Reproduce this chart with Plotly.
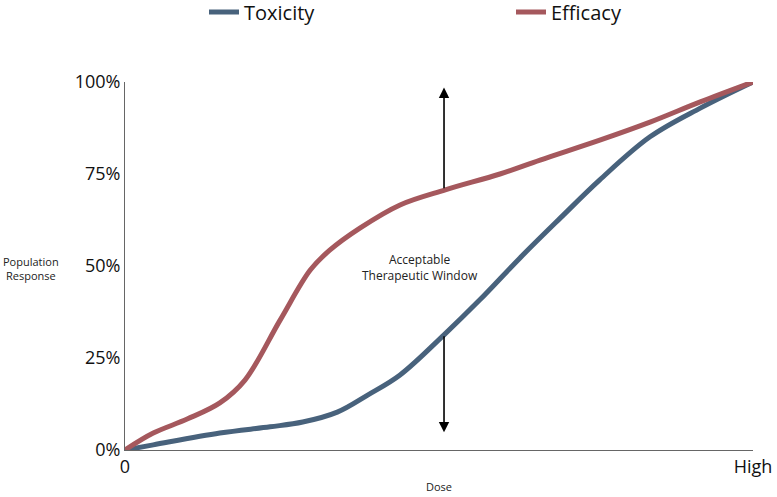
import plotly.graph_objects as go

# Dose on 0..100 scale (0 = "0", 100 = "High"); response in percent
tox_dose = [0, 4.5, 15.1, 23.1, 28.3, 33.8, 38.7, 43.8, 50.8, 56.5, 62.9, 69.3, 75.6, 83.6, 91.6, 100]
tox_resp = [0, 1.4, 4.6, 6.3, 7.6, 10.3, 15.0, 20.4, 31.3, 40.8, 52.2, 63.0, 73.4, 85.1, 92.9, 100]

eff_dose = [0, 4.5, 9.9, 15.1, 19.1, 24.7, 29.5, 32.6, 37.4, 43.8, 51.0, 59.7, 66.1, 75.6, 83.6, 91.6, 100]
eff_resp = [0, 4.6, 8.4, 12.8, 19.0, 35.3, 48.9, 54.3, 60.3, 66.6, 70.7, 75.0, 78.8, 84.2, 89.1, 94.6, 100]

y_ticks = [0, 25, 50, 75, 100]
y_tick_labels = ["0%", "25%", "50%", "75%", "100%"]
x_ticks = [0, 100]
x_tick_labels = ["0", "High"]

arrow_x = 50.8
arrow_up = [70.7, 98.5]     # from efficacy curve up
arrow_down = [31.3, 4.8]    # from toxicity curve down
window_label = (47, 49.5)

TOX = "#48627c"
EFF = "#a5585d"
FONT = "Open Sans"

fig = go.Figure()
fig.add_trace(go.Scatter(x=tox_dose, y=tox_resp, mode="lines", name="Toxicity",
                         line=dict(color=TOX, width=5, shape="spline", smoothing=1.0)))
fig.add_trace(go.Scatter(x=eff_dose, y=eff_resp, mode="lines", name="Efficacy",
                         line=dict(color=EFF, width=5, shape="spline", smoothing=1.0)))

for y0, y1 in (arrow_up, arrow_down):
    fig.add_annotation(x=arrow_x, y=y1, ax=arrow_x, ay=y0, xref="x", yref="y",
                       axref="x", ayref="y", showarrow=True, arrowhead=2,
                       arrowsize=1.3, arrowwidth=1.6, arrowcolor="black", text="")

fig.add_annotation(x=window_label[0], y=window_label[1], xref="x", yref="y",
                   text="Acceptable<br>Therapeutic Window", showarrow=False,
                   font=dict(family=FONT, size=12, color="#222"), align="center")
fig.add_annotation(x=(31 - 125) / 628, y=(450 - 268) / 368, xref="paper", yref="paper",
                   xanchor="center", yanchor="middle",
                   text="Population<br>Response", showarrow=False,
                   font=dict(family=FONT, size=11, color="#222"), align="center")

fig.update_layout(
    width=777, height=497,
    margin=dict(l=125, r=24, t=82, b=47, autoexpand=False),
    paper_bgcolor="white", plot_bgcolor="white",
    font=dict(family=FONT, color="#111"),
    showlegend=True,
    legend=dict(orientation="h", x=204 / 777, xref="container", xanchor="left",
                y=1 - 12 / 497, yref="container", yanchor="middle",
                entrywidth=262, entrywidthmode="pixels",
                font=dict(family=FONT, size=20, color="#111"),
                bgcolor="rgba(0,0,0,0)"),
    xaxis=dict(range=[0, 100], tickvals=x_ticks, ticktext=x_tick_labels, automargin=False,
               showgrid=False, zeroline=False, showline=True, linecolor="#666",
               linewidth=1, ticks="", tickfont=dict(family=FONT, size=18, color="#111"),
               title=dict(text="Dose", font=dict(family=FONT, size=11, color="#222"), standoff=6)),
    yaxis=dict(range=[0, 100], tickvals=y_ticks, ticktext=y_tick_labels, automargin=False,
               showgrid=False, zeroline=False, showline=True, linecolor="#666",
               linewidth=1, ticks="", tickfont=dict(family=FONT, size=18, color="#111")),
)

fig.write_html("out.html", config={"displayModeBar": False},
               post_script="document.body.style.margin='0';document.body.style.overflow='hidden';")
